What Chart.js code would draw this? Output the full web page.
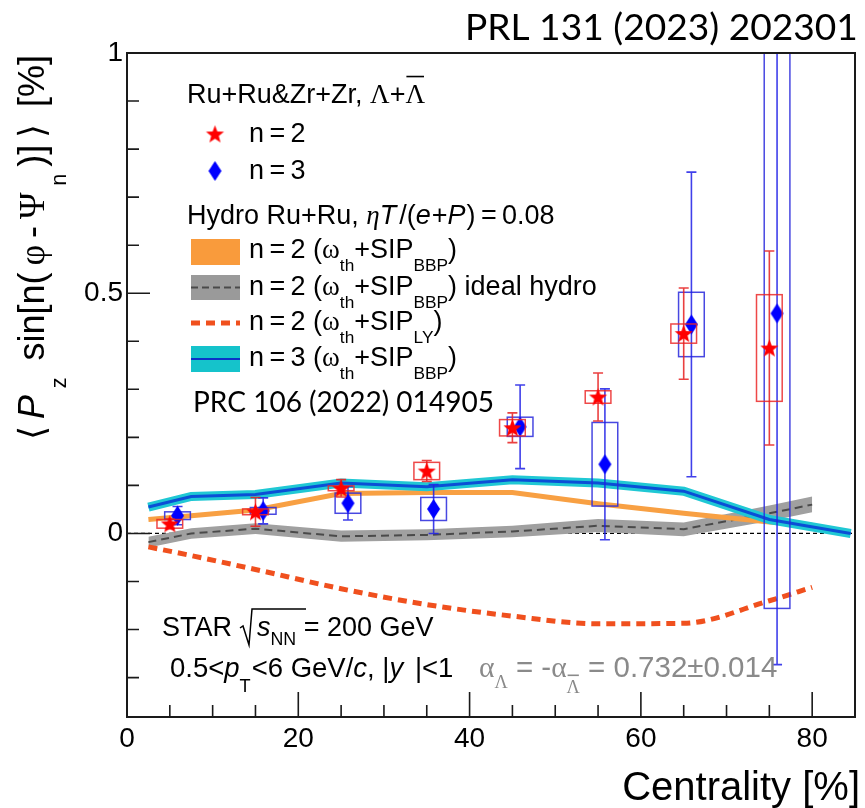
<!DOCTYPE html>
<html>
<head>
<meta charset="utf-8">
<script src="https://cdn.jsdelivr.net/npm/chart.js@4.4.1/dist/chart.umd.min.js"></script>
<style>
  html, body { margin: 0; padding: 0; background: #ffffff; }
  #wrap { width: 865px; height: 808px; }
</style>
</head>
<body>
<div id="wrap"><canvas id="c" width="865" height="808"></canvas></div>
<script>
// ---- measured polarization, n = 2 (red stars) ----
const redX    = [5, 15, 25, 35, 45, 55, 65, 75];
const redY    = [0.020, 0.045, 0.094, 0.130, 0.220, 0.284, 0.416, 0.386];
const redStat = [0.010, 0.030, 0.018, 0.022, 0.031, 0.050, 0.095, 0.202];
const redSys  = [0.009, 0.006, 0.005, 0.018, 0.017, 0.013, 0.020, 0.111];

// ---- measured polarization, n = 3 (blue diamonds) ----
const blueX    = [5.9, 15.9, 25.8, 35.8, 45.9, 55.8, 65.9, 75.9];
const blueY    = [0.037, 0.047, 0.063, 0.051, 0.222, 0.144, 0.435, 0.458];
const blueStat = [0.019, 0.027, 0.035, 0.051, 0.087, 0.157, 0.317, 0.731];
const blueSys  = [0.008, 0.007, 0.021, 0.024, 0.020, 0.087, 0.067, 0.614];

// ---- hydro calculations ----
const hydroX    = [2.5, 7.5, 15, 25, 35, 45, 55, 65, 75, 80];
const bbpN2     = [0.029, 0.037, 0.049, 0.083, 0.085, 0.085, 0.062, 0.042, 0.024, 0.017];
const idealMid  = [-0.018, 0.000, 0.010, -0.006, -0.003, 0.004, 0.016, 0.009, 0.042, 0.060];
const idealHigh = [-0.007, 0.011, 0.021, 0.006, 0.009, 0.016, 0.030, 0.023, 0.058, 0.077];
const idealLow  = [-0.029, -0.011, -0.001, -0.017, -0.014, -0.008, 0.003, -0.006, 0.026, 0.044];
const lyN2      = [-0.028, -0.046, -0.075, -0.115, -0.148, -0.172, -0.188, -0.187, -0.140, -0.112];
const n3X       = [2.5, 7.5, 15, 25, 35, 45, 55, 65, 75, 84.5];
const bbpN3     = [0.055, 0.077, 0.081, 0.105, 0.097, 0.112, 0.105, 0.088, 0.029, 0.000];

// ---- axes ----
const xTickValues = [0, 20, 40, 60, 80];
const xMinorTicks = [5, 10, 15, 25, 30, 35, 45, 50, 55, 65, 70, 75];
const yTickValues = [0, 0.5, 1];
const yMinorTicks = [-0.3, -0.2, -0.1, 0.1, 0.2, 0.3, 0.4, 0.6, 0.7, 0.8, 0.9];

const SANS = '"Liberation Sans", Arial, Helvetica, sans-serif';
const SERIF = '"Liberation Serif", "DejaVu Serif", serif';
const CAL = 'Lato, "Open Sans", sans-serif';

const pts = (xs, ys) => xs.map((x, i) => ({ x: x, y: ys[i] }));

// filled marker images
function starImage(r, color) {
  const s = Math.ceil(2 * r + 2);
  const c = document.createElement('canvas');
  c.width = s; c.height = s;
  const g = c.getContext('2d');
  g.translate(s / 2, s / 2 + r * 0.08);
  g.beginPath();
  for (let i = 0; i < 10; i++) {
    const a = -Math.PI / 2 + i * Math.PI / 5;
    const rr = (i % 2) ? r * 0.42 : r;
    g.lineTo(rr * Math.cos(a), rr * Math.sin(a));
  }
  g.closePath();
  g.fillStyle = color;
  g.fill();
  return c;
}
function diamondImage(hw, hh, color) {
  const c = document.createElement('canvas');
  c.width = Math.ceil(2 * hw + 2); c.height = Math.ceil(2 * hh + 2);
  const g = c.getContext('2d');
  const cx = c.width / 2, cy = c.height / 2;
  g.beginPath();
  g.moveTo(cx, cy - hh); g.lineTo(cx + hw, cy); g.lineTo(cx, cy + hh); g.lineTo(cx - hw, cy);
  g.closePath();
  g.fillStyle = color;
  g.fill();
  return c;
}
const starImg = starImage(9.5, '#ff0000');
const diamImg = diamondImage(6.5, 10, '#0000ff');

// rich text: parts [{t, i, serif, sub, dy, subScale, over, color, gap, fam}]
function partFont(p, size, family) {
  const fs = p.sub ? size * (p.subScale || 0.62) : size * (p.scale || 1);
  return { fs: fs, font: (p.i ? 'italic ' : '') + fs + 'px ' + (p.serif ? SERIF : (p.fam || family)) };
}
function richWidth(ctx, parts, size, family) {
  let w = 0;
  for (const p of parts) {
    ctx.font = partFont(p, size, family).font;
    w += ctx.measureText(p.t).width + (p.gap || 0);
  }
  return w;
}
function drawRich(ctx, x, y, parts, size, family, color, extraGap) {
  let cx = x;
  for (const p of parts) {
    const f = partFont(p, size, family);
    const dy = p.sub ? size * (p.dy !== undefined ? p.dy : 0.42) : 0;
    ctx.font = f.font;
    ctx.fillStyle = p.color || color;
    ctx.fillText(p.t, cx, y + dy);
    const w = ctx.measureText(p.t).width;
    if (p.over) {
      ctx.strokeStyle = p.color || color;
      ctx.lineWidth = 1.6;
      ctx.beginPath();
      ctx.moveTo(cx + 1, y + dy - f.fs * 0.98);
      ctx.lineTo(cx + w - 1, y + dy - f.fs * 0.98);
      ctx.stroke();
    }
    cx += w + (p.gap || 0) + (extraGap || 0);
  }
  return cx;
}
function fitText(ctx, text, family, width) {
  ctx.font = '100px ' + family;
  return 100 * width / ctx.measureText(text).width;
}

const sub = (t, o) => Object.assign({ t: t, sub: true }, o || {});

const decorPlugin = {
  id: 'decor',
  beforeDatasetsDraw(chart) {
    const { ctx, chartArea: a, scales: { y } } = chart;
    // dashed zero line
    ctx.save();
    ctx.strokeStyle = '#000000';
    ctx.lineWidth = 1.2;
    ctx.setLineDash([4, 3]);
    ctx.beginPath();
    ctx.moveTo(a.left, y.getPixelForValue(0));
    ctx.lineTo(a.right, y.getPixelForValue(0));
    ctx.stroke();
    ctx.restore();
  },
  beforeDatasetDraw(chart, args) {
    const ds = chart.data.datasets[args.index];
    if (!ds.errStat) return;
    const { ctx, chartArea: a, scales: { x, y } } = chart;
    ctx.save();
    ctx.beginPath();
    ctx.rect(a.left, a.top, a.right - a.left, a.bottom - a.top);
    ctx.clip();
    ds.data.forEach((p, i) => {
      const px = x.getPixelForValue(p.x);
      // systematic box
      const bl = x.getPixelForValue(p.x - 1.5), br = x.getPixelForValue(p.x + 1.5);
      const bt = y.getPixelForValue(p.y + ds.errSys[i]), bb = y.getPixelForValue(p.y - ds.errSys[i]);
      ctx.strokeStyle = ds.boxColor;
      ctx.lineWidth = 1.5;
      ctx.strokeRect(bl, bt, br - bl, bb - bt);
      // statistical bar
      const et = y.getPixelForValue(p.y + ds.errStat[i]), eb = y.getPixelForValue(p.y - ds.errStat[i]);
      ctx.strokeStyle = ds.barColor;
      ctx.lineWidth = 1.6;
      ctx.beginPath();
      ctx.moveTo(px, et); ctx.lineTo(px, eb);
      ctx.moveTo(px - 5, et); ctx.lineTo(px + 5, et);
      ctx.moveTo(px - 5, eb); ctx.lineTo(px + 5, eb);
      ctx.stroke();
    });
    ctx.restore();
  },
  afterDraw(chart) {
    const { ctx, chartArea: a, scales: { x, y } } = chart;
    ctx.save();
    // frame
    ctx.strokeStyle = '#1a1a1a';
    ctx.lineWidth = 2;
    ctx.strokeRect(a.left, a.top, a.right - a.left, a.bottom - a.top);
    // ticks, drawn inward
    ctx.lineWidth = 1.6;
    ctx.beginPath();
    yTickValues.forEach(v => { const py = y.getPixelForValue(v); ctx.moveTo(a.left, py); ctx.lineTo(a.left + 23, py); });
    yMinorTicks.forEach(v => { const py = y.getPixelForValue(v); ctx.moveTo(a.left, py); ctx.lineTo(a.left + 12, py); });
    xTickValues.forEach(v => { const px = x.getPixelForValue(v); ctx.moveTo(px, a.bottom); ctx.lineTo(px, a.bottom - 25); });
    xMinorTicks.forEach(v => { const px = x.getPixelForValue(v); ctx.moveTo(px, a.bottom); ctx.lineTo(px, a.bottom - 12); });
    ctx.stroke();

    ctx.textBaseline = 'alphabetic';
    ctx.textAlign = 'left';

    // reference labels
    let fs = fitText(ctx, 'PRL 131 (2023) 202301', CAL, 393);
    ctx.font = fs + 'px ' + CAL; ctx.fillStyle = '#000';
    ctx.fillText('PRL 131 (2023) 202301', 465, 40);
    fs = fitText(ctx, 'PRC 106 (2022) 014905', CAL, 301);
    ctx.font = fs + 'px ' + CAL;
    ctx.fillText('PRC 106 (2022) 014905', 193, 412);

    // legend
    const L = 27;
    drawRich(ctx, 187, 103, [
      { t: 'Ru+Ru&Zr+Zr, ' }, { t: 'Λ', serif: true }, { t: '+' }, { t: 'Λ', serif: true, over: true }
    ], L, SANS, '#000');
    ctx.drawImage(starImg, 215 - starImg.width / 2, 134 - starImg.height / 2);
    ctx.drawImage(diamImg, 215 - diamImg.width / 2, 171 - diamImg.height / 2);
    drawRich(ctx, 249, 142, [{ t: 'n\u2009=\u20092' }], L, SANS, '#000');
    drawRich(ctx, 249, 179, [{ t: 'n\u2009=\u20093' }], L, SANS, '#000');
    drawRich(ctx, 187, 224, [
      { t: 'Hydro Ru+Ru, ' }, { t: 'η', i: true, serif: true }, { t: 'T', i: true, gap: 3 }, { t: '/(' },
      { t: 'e', i: true, gap: 1 }, { t: '+' }, { t: 'P', i: true, gap: 1 }, { t: ')\u2009=\u20090.08' }
    ], L, SANS, '#000');

    // legend swatches
    ctx.fillStyle = '#f99b3c';
    ctx.fillRect(191, 239, 49, 26);
    ctx.fillStyle = '#9a9a9a';
    ctx.fillRect(191, 275, 49, 25);
    ctx.strokeStyle = '#4a4a4a'; ctx.lineWidth = 2; ctx.setLineDash([7, 4]);
    ctx.beginPath(); ctx.moveTo(191, 287.5); ctx.lineTo(240, 287.5); ctx.stroke();
    ctx.strokeStyle = '#f0501e'; ctx.lineWidth = 5; ctx.setLineDash([9, 6]);
    ctx.beginPath(); ctx.moveTo(191, 323); ctx.lineTo(240, 323); ctx.stroke();
    ctx.setLineDash([]);
    ctx.fillStyle = '#15c3cb';
    ctx.fillRect(191, 346, 49, 26);
    ctx.strokeStyle = '#0a32c8'; ctx.lineWidth = 2;
    ctx.beginPath(); ctx.moveTo(191, 359); ctx.lineTo(240, 359); ctx.stroke();

    const model = (n, tag, extra) => {
      const arr = [{ t: 'n\u2009=\u2009' + n + ' (' }, { t: 'ω', serif: true }, sub('th', { dy: 0.47, subScale: 0.64 }),
        { t: '+SIP' }, sub(tag, { dy: 0.47, subScale: 0.64 }), { t: ')' }];
      if (extra) arr.push({ t: extra });
      return arr;
    };
    drawRich(ctx, 249, 258, model(2, 'BBP'), L, SANS, '#000');
    drawRich(ctx, 249, 295, model(2, 'BBP', ' ideal hydro'), L, SANS, '#000');
    drawRich(ctx, 249, 330, model(2, 'LY'), L, SANS, '#000');
    drawRich(ctx, 249, 366, model(3, 'BBP'), L, SANS, '#000');

    // experiment labels
    const B = 27;
    drawRich(ctx, 162, 636, [{ t: 'STAR' }], B, SANS, '#000');
    ctx.strokeStyle = '#000'; ctx.lineWidth = 1.5;
    ctx.beginPath();
    ctx.moveTo(240, 628); ctx.lineTo(243, 626); ctx.lineTo(249, 645); ctx.lineTo(252, 609); ctx.lineTo(306, 609);
    ctx.stroke();
    drawRich(ctx, 257, 636, [{ t: 's', i: true }, sub('NN', { dy: 0.34, subScale: 0.66 }), { t: ' = 200 GeV' }], B, SANS, '#000');
    drawRich(ctx, 170, 677, [
      { t: '0.5<' }, { t: 'p', i: true }, sub('T', { dy: 0.55, subScale: 0.66, gap: 1 }), { t: '<6 GeV/' }, { t: 'c', i: true },
      { t: ', |' }, { t: 'y', i: true, gap: 4 }, { t: ' |<1' }
    ], 27.5, SANS, '#000');
    drawRich(ctx, 479, 677, [
      { t: 'α', serif: true }, sub('Λ', { serif: true, dy: 0.36, subScale: 0.62 }), { t: ' = -' }, { t: 'α', serif: true },
      sub('Λ', { serif: true, dy: 0.55, subScale: 0.62, over: true }), { t: ' = 0.732±0.014' }
    ], 29.5, SANS, '#8a8a8a');

    // axis titles
    ctx.font = '40px ' + SANS;
    ctx.fillStyle = '#000';
    ctx.textAlign = 'right';
    ctx.fillText('Centrality [%]', 860, 800);
    ctx.textAlign = 'left';

    const yParts = [
      { t: '⟨', fam: '"DejaVu Sans", sans-serif' }, { t: 'P', i: true }, sub('z', { dy: 0.6, subScale: 0.6 }),
      { t: ' sin[n(' }, { t: 'φ', serif: true }, { t: '-' }, { t: 'Ψ', serif: true }, sub('n', { dy: 0.6, subScale: 0.6 }),
      { t: ')]' }, { t: '⟩', fam: '"DejaVu Sans", sans-serif' }, { t: ' [%]' }
    ];
    const YS = 36;
    const natural = richWidth(ctx, yParts, YS, SANS);
    const extra = Math.max(0, (385 - natural) / (yParts.length - 1));
    ctx.translate(44, 440);
    ctx.rotate(-Math.PI / 2);
    drawRich(ctx, 0, 0, yParts, YS, SANS, '#000', extra);
    ctx.restore();
  }
};

const ctx = document.getElementById('c').getContext('2d');
new Chart(ctx, {
  type: 'line',
  data: {
    datasets: [
      { label: 'n = 2', data: pts(redX, redY), showLine: false, pointStyle: starImg, pointRadius: 9,
        errStat: redStat, errSys: redSys, boxColor: 'rgba(235,40,40,0.85)', barColor: 'rgba(230,30,30,0.85)', order: 0 },
      { label: 'n = 3', data: pts(blueX, blueY), showLine: false, pointStyle: diamImg, pointRadius: 9,
        errStat: blueStat, errSys: blueSys, boxColor: 'rgba(40,40,220,0.85)', barColor: 'rgba(30,30,230,0.85)', order: 1 },
      { label: 'n = 3 (BBP)', data: pts(n3X, bbpN3), borderColor: '#0b4fd6', borderWidth: 3, pointRadius: 0, order: 2 },
      { label: 'n = 3 (BBP) band', data: pts(n3X, bbpN3), borderColor: '#20c8d4', borderWidth: 9, pointRadius: 0, order: 3 },
      { label: 'n = 2 (LY)', data: pts(hydroX, lyN2), borderColor: '#f0501e', borderWidth: 5, borderDash: [9, 6],
        pointRadius: 0, cubicInterpolationMode: 'monotone', order: 4 },
      { label: 'n = 2 (BBP)', data: pts(hydroX, bbpN2), borderColor: '#f8a043', borderWidth: 5, pointRadius: 0, order: 5 },
      { label: 'ideal hydro', data: pts(hydroX, idealMid), borderColor: '#4a4a4a', borderWidth: 2, borderDash: [8, 5],
        pointRadius: 0, order: 6 },
      { label: 'ideal high', data: pts(hydroX, idealHigh), borderWidth: 0, pointRadius: 0, order: 8 },
      { label: 'ideal low', data: pts(hydroX, idealLow), borderWidth: 0, pointRadius: 0, fill: '-1',
        backgroundColor: '#a0a0a0', order: 7 }
    ]
  },
  options: {
    responsive: false,
    animation: false,
    devicePixelRatio: 1,
    layout: { padding: { top: 53, right: 3, left: 0, bottom: 0 } },
    plugins: { legend: { display: false }, tooltip: { enabled: false } },
    scales: {
      x: {
        type: 'linear', min: 0, max: 85,
        grid: { display: false, drawTicks: false }, border: { display: false },
        afterBuildTicks: s => { s.ticks = xTickValues.map(v => ({ value: v })); },
        afterFit: s => { s.height = 91; },
        ticks: { font: { family: SANS, size: 28 }, color: '#000', padding: 5, maxRotation: 0,
          callback: v => String(v) }
      },
      y: {
        type: 'linear', min: -0.382, max: 1,
        grid: { display: false, drawTicks: false }, border: { display: false },
        afterBuildTicks: s => { s.ticks = yTickValues.map(v => ({ value: v })); },
        afterFit: s => { s.width = 127; },
        ticks: { font: { family: SANS, size: 28 }, color: '#000', padding: 4,
          callback: v => String(v) }
      }
    }
  },
  plugins: [decorPlugin]
});
</script>
</body>
</html>
